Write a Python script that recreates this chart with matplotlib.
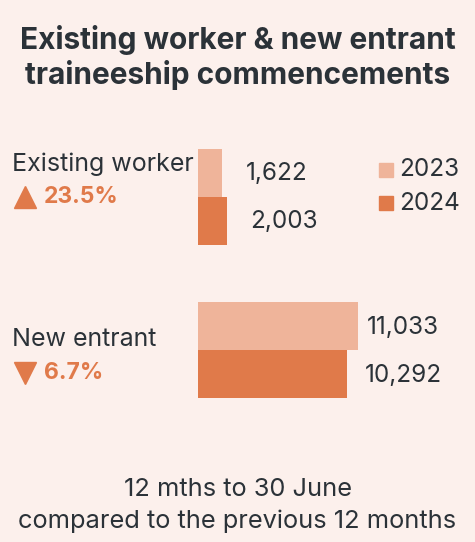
import matplotlib.pyplot as plt

categories = ["Existing worker", "New entrant"]
years = ["2023", "2024"]
v2023 = [1622, 11033]
v2024 = [2003, 10292]
changes = ["23.5%", "6.7%"]
directions = ["up", "down"]

bg = "#FCF0EC"
light = "#EFB49A"
dark = "#E07A4A"
txt = "#2B3238"
font = "Inter"

W, H = 475, 542
fig = plt.figure(figsize=(W / 100, H / 100), dpi=100, facecolor=bg)
ax = fig.add_axes([0, 0, 1, 1])
ax.set_facecolor(bg)
# x in data units: zero at pixel 198, ~69 units per pixel
scale = 69.0
x0 = 198
ax.set_xlim(-x0 * scale, (W - x0) * scale)
ax.set_ylim(H, 0)
ax.axis("off")

bh = 48
centers = [173, 326]
label_y = [164, 340]
pct_y = [197, 373]
gap23 = [24, 9]   # px between bar end and value label
gap24 = [23, 18]
for i, cat in enumerate(categories):
    c = centers[i]
    ax.barh(c, v2023[i], height=bh, color=light, align="center")
    ax.barh(c + bh, v2024[i], height=bh, color=dark, align="center")
    ax.text(v2023[i] + gap23[i] * scale, c + 1, f"{v2023[i]:,}", fontsize=17.5,
            color=txt, va="center", ha="left", family=font)
    ax.text(v2024[i] + gap24[i] * scale, c + bh + 1, f"{v2024[i]:,}",
            fontsize=17.5, color=txt, va="center", ha="left", family=font)
    ax.text(-186 * scale, label_y[i], cat, fontsize=18, color=txt, va="center",
            ha="left", family=font)
    mk = "^" if directions[i] == "up" else "v"
    ax.plot(-173 * scale, pct_y[i], marker=mk, markersize=16, color=dark,
            linestyle="none")
    ax.text(-154 * scale, pct_y[i], changes[i], fontsize=16.5, color=dark,
            fontweight="bold", va="center", ha="left", family=font)

# legend
for j, (yr, col) in enumerate(zip(years, [light, dark])):
    ly = 170 + j * 33
    ax.plot((386 - x0) * scale, ly, marker="s", markersize=10, color=col,
            linestyle="none")
    ax.text((399 - x0) * scale, ly, yr, fontsize=17.5, color=txt, va="center",
            ha="left", family=font)

fig.text(0.5, 1 - 40 / H, "Existing worker & new entrant", fontsize=21.5,
         fontweight="bold", color=txt, ha="center", va="center", family=font)
fig.text(0.5, 1 - 75 / H, "traineeship commencements", fontsize=21.5,
         fontweight="bold", color=txt, ha="center", va="center", family=font)
fig.text(0.5, 1 - 490 / H, "12 mths to 30 June", fontsize=18.3, color=txt,
         ha="center", va="center", family=font)
fig.text(0.5, 1 - 521 / H, "compared to the previous 12 months", fontsize=18.3,
         color=txt, ha="center", va="center", family=font)

fig.savefig("out.png", dpi=100, facecolor=bg)
